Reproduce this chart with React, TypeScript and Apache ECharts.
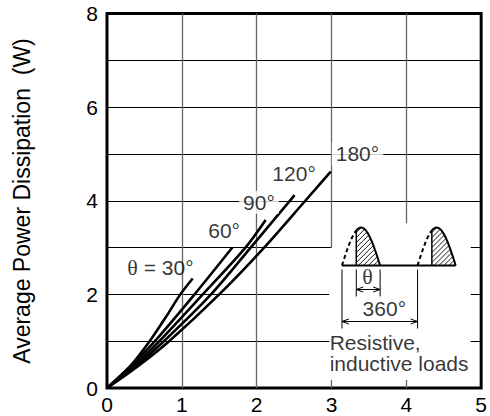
import React, { useEffect, useRef } from "react";
import * as echarts from "echarts";

// ---- data ----
const xTicks = [0, 1, 2, 3, 4, 5];
const yTicks = [0, 2, 4, 6, 8];
const curveNames = ["30", "60", "90", "120", "180"];
const theta30 = [[0, 0], [0.3, 0.45], [0.57, 1.0], [0.8, 1.55], [0.98, 2.0], [1.145, 2.34]];
const theta60 = [[0, 0], [0.32, 0.47], [0.64, 1.0], [1.17, 2.0], [1.675, 3.0]];
const theta90 = [[0, 0], [0.35, 0.46], [0.7, 1.0], [1.28, 2.0], [1.85, 3.0], [2.12, 3.59]];
const theta120 = [[0, 0], [0.37, 0.45], [0.76, 1.0], [1.39, 2.0], [1.92, 3.0], [2.507, 4.12]];
const theta180 = [[0, 0], [0.4, 0.45], [0.83, 1.0], [1.5, 2.0], [2.1, 3.0], [2.65, 4.0], [2.99, 4.62]];
const curveData = [theta30, theta60, theta90, theta120, theta180];

// ---- annotation layout (chart decoration) ----
const hGrid = [
  [[0, 1], [2.97, 1]], [[0, 2], [2.97, 2]], [[0, 3], [3, 3]],
  [[0, 4], [5, 4]], [[0, 5], [5, 5]], [[0, 6], [5, 6]], [[0, 7], [5, 7]],
  [[4.86, 1], [5, 1]], [[4.86, 2], [5, 2]], [[4.86, 3], [5, 3]],
];
const vGrid = [
  [[1, 0], [1, 8]], [[2, 0], [2, 8]], [[3, 3], [3, 8]], [[4, 3.52], [4, 8]],
  [[3, 0], [3, 0.17]], [[4, 0], [4, 0.17]],
];
const labels = [
  { at: [0.714, 2.57], text: "{s|θ} = 30°", pos: "inside", bg: false },
  { at: [1.565, 3.36], text: "60°", pos: "inside", bg: false },
  { at: [2.031, 3.97], text: "90°", pos: "inside", bg: true },
  { at: [2.5, 4.58], text: "120°", pos: "inside", bg: false },
  { at: [3.347, 5.0], text: "180°", pos: "inside", bg: true },
  { at: [3.706, 1.7], text: "360°", pos: "inside", bg: false },
  { at: [2.975, 0.97], text: "Resistive,", pos: "right", bg: false },
  { at: [2.975, 0.52], text: "inductive loads", pos: "right", bg: false },
  { at: [3.48, 2.39], text: "{s|θ}", pos: "inside", bg: false },
];
const INSET = { x0: 3.14, yBase: 2.617, period: 1.01, width: 0.51, height: 0.81, fire: 0.375 };

const FONT = "'Liberation Sans', Arial, sans-serif";
const SERIF = "'Liberation Serif', 'Times New Roman', serif";

function renderInset(params: any, api: any) {
  const p0 = api.coord([INSET.x0, INSET.yBase]);
  const p1 = api.coord([INSET.x0 + INSET.width, INSET.yBase + INSET.height]);
  const pP = api.coord([INSET.x0 + INSET.period, INSET.yBase]);
  const W = p1[0] - p0[0];
  const H = p0[1] - p1[1];
  const P = pP[0] - p0[0];
  const by = p0[1];
  const children: any[] = [];
  const black = { stroke: "#000", fill: null };
  for (let k = 0; k < 2; k++) {
    const xs = p0[0] + k * P;
    const xf = xs + INSET.fire * W;
    const yc = (x: number) => by - H * Math.sin((Math.PI * (x - xs)) / W);
    const dashPts: number[][] = [];
    const solidPts: number[][] = [];
    for (let i = 0; i <= 40; i++) {
      const x = xs + ((xf - xs) * i) / 40;
      dashPts.push([x, yc(x)]);
    }
    for (let i = 0; i <= 60; i++) {
      const x = xf + ((xs + W - xf) * i) / 60;
      solidPts.push([x, yc(x)]);
    }
    children.push({ type: "polyline", shape: { points: dashPts }, style: { ...black, lineWidth: 2, lineDash: [4, 3] } });
    children.push({ type: "polyline", shape: { points: solidPts }, style: { ...black, lineWidth: 2 } });
    children.push({ type: "line", shape: { x1: xf, y1: by, x2: xf, y2: yc(xf) }, style: { ...black, lineWidth: 1.5 } });
    // hatching
    for (let c = xf - H; c < xs + W; c += 5) {
      let t0 = Math.max(0, xf - c);
      const inside = (t: number) => t <= H * Math.sin((Math.PI * (c + t - xs)) / W) && c + t <= xs + W;
      if (!inside(t0)) continue;
      let t1 = t0;
      while (inside(t1 + 0.2)) t1 += 0.2;
      if (t1 - t0 < 0.5) continue;
      children.push({ type: "line", shape: { x1: c + t0, y1: by - t0, x2: c + t1, y2: by - t1 }, style: { ...black, lineWidth: 0.9 } });
    }
  }
  // baseline
  children.push({ type: "line", shape: { x1: p0[0], y1: by, x2: p0[0] + P + W, y2: by }, style: { ...black, lineWidth: 1.8 } });
  // dimension lines
  const xs = p0[0];
  const xf = xs + INSET.fire * W;
  const xe = xs + W;
  const xp = xs + P;
  const vline = (x: number, y1: number, y2: number) =>
    children.push({ type: "line", shape: { x1: x, y1, x2: x, y2 }, style: { ...black, lineWidth: 1 } });
  vline(xs, by + 4, by + 63);
  vline(xf, by + 4, by + 31);
  vline(xe, by + 4, by + 31);
  vline(xp, by + 4, by + 63);
  const arrow = (xa: number, xb: number, y: number) => {
    children.push({ type: "line", shape: { x1: xa, y1: y, x2: xb, y2: y }, style: { ...black, lineWidth: 1 } });
    children.push({ type: "polyline", shape: { points: [[xa + 7, y - 2.5], [xa, y], [xa + 7, y + 2.5]] }, style: { ...black, lineWidth: 1 } });
    children.push({ type: "polyline", shape: { points: [[xb - 7, y - 2.5], [xb, y], [xb - 7, y + 2.5]] }, style: { ...black, lineWidth: 1 } });
  };
  arrow(xf, xe, by + 24);
  arrow(xs, xp, by + 56);
  return { type: "group", children };
}

export default function App() {
  const ref = useRef<HTMLDivElement>(null);
  useEffect(() => {
    if (!ref.current) return;
    const chart = echarts.init(ref.current, null, { renderer: "svg" });
    const curveSeries = curveData.map((d, i) => ({
      name: curveNames[i],
      type: "line",
      data: d,
      smooth: 0.3,
      symbol: "none",
      lineStyle: { color: "#000", width: 2.6 },
      z: 5,
      silent: true,
    }));
    chart.setOption({
      animation: false,
      grid: { left: 107, right: 7, top: 13.5, bottom: 28, show: true, borderColor: "#000", borderWidth: 3, backgroundColor: "#fff" },
      xAxis: {
        type: "value", min: 0, max: 5, interval: 1,
        axisLine: { show: false }, axisTick: { show: false }, splitLine: { show: false },
        axisLabel: { fontSize: 21, color: "#000", fontFamily: FONT, margin: 6, formatter: (v: number) => (xTicks.includes(v) ? String(v) : "") },
      },
      yAxis: {
        type: "value", min: 0, max: 8, interval: 2,
        axisLine: { show: false }, axisTick: { show: false }, splitLine: { show: false },
        axisLabel: { fontSize: 21, color: "#000", fontFamily: FONT, margin: 9, formatter: (v: number) => (yTicks.includes(v) ? String(v) : "") },
      },
      graphic: [
        {
          type: "text", x: 22, y: 201, rotation: Math.PI / 2,
          style: { text: "Average Power Dissipation  (W)", fill: "#000", font: `23px ${FONT}`, align: "center", verticalAlign: "middle" },
        },
      ],
      series: [
        { type: "lines", coordinateSystem: "cartesian2d", data: hGrid.map((c) => ({ coords: c })), lineStyle: { color: "#000", width: 1, opacity: 1 }, z: 2, silent: true },
        { type: "lines", coordinateSystem: "cartesian2d", data: vGrid.map((c) => ({ coords: c })), lineStyle: { color: "#666", width: 1.3, opacity: 1 }, z: 2, silent: true },
        ...curveSeries,
        {
          type: "custom", coordinateSystem: "cartesian2d", renderItem: renderInset, data: [[INSET.x0, INSET.yBase]], clip: false, z: 6, silent: true,
        },
        {
          type: "scatter", symbolSize: 0, z: 10, silent: true,
          data: labels.map((l) => ({
            value: l.at,
            label: {
              show: true, position: l.pos, distance: 0, formatter: l.text, color: "#000", fontSize: 21, fontFamily: FONT,
              backgroundColor: l.bg ? "#fff" : "transparent", padding: l.bg ? [1, 4] : 0,
              rich: { s: { fontFamily: SERIF, fontSize: 22, color: "#000" } },
            },
          })),
        },
      ],
    });
    return () => chart.dispose();
  }, []);
  return <div ref={ref} style={{ position: "absolute", left: 0, top: 0, width: 490, height: 416 }} />;
}
